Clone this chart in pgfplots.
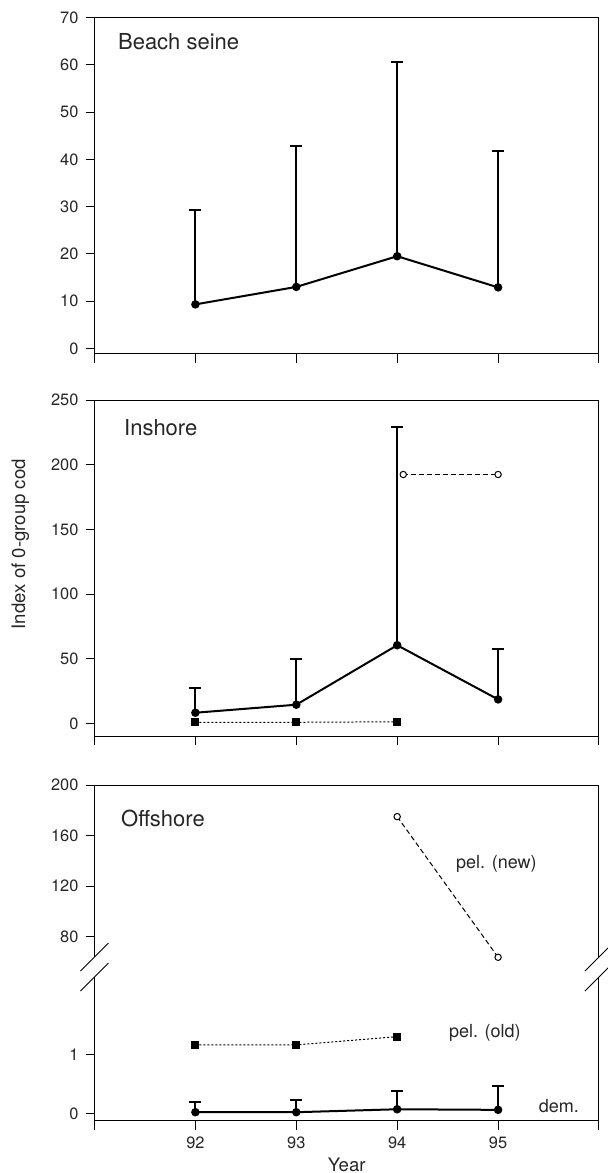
\documentclass[border=0pt]{standalone}
\usepackage{fontspec}
\setmainfont{TeX Gyre Heros}
\usepackage{pgfplots}
\pgfplotsset{compat=1.18}

\begin{document}
\begin{tikzpicture}
\useasboundingbox (0,0) rectangle (303.5pt,-586.5pt);
\tikzset{
  ttl/.style={font=\fontsize{11}{13}\selectfont, text=black!85, inner sep=0pt},
  lbl/.style={font=\fontsize{9}{11}\selectfont, text=black!85, inner sep=0pt},
  brk/.style={line width=0.5pt, black},
}
\pgfplotsset{
  panel/.style={
    scale only axis, anchor=south west, width=252.25pt,
    xmin=91, xmax=96, xtick={91,...,96}, xticklabels={},
    tick align=outside, xtick pos=left, ytick pos=left,
    major tick length=4.5pt,
    tick style={line width=0.5pt, black},
    axis line style={line width=0.5pt},
    tick label style={font=\fontsize{8.2}{9}\selectfont, text=black!85},
    label style={font=\fontsize{9.3}{11}\selectfont, text=black!85},
    /pgf/number format/assume math mode=true,
    clip=false,
  },
  mean/.style={
    black, line width=1pt, mark=*, mark size=1.6pt,
    error bars/.cd, y dir=plus, y explicit,
    error bar style={line width=1pt},
    error mark options={rotate=90, line width=1pt, mark size=3pt},
  },
  oldpel/.style={black, line width=0.5pt, dash pattern=on 1pt off 1pt,
    mark=square*, mark size=1.7pt, mark options={solid}},
  newpel/.style={black, line width=0.5pt, dash pattern=on 2.5pt off 1.5pt,
    mark=*, mark size=1.6pt, mark options={solid, fill=white, line width=0.5pt}},
}

% Beach seine
\begin{axis}[panel, at={(47.25pt,-176.75pt)}, height=167.9pt,
  ymin=-1.1, ymax=70, ytick={0,10,...,70}]
\addplot[mean] coordinates {(92,9.3) +- (0,20.0) (93,13.0) +- (0,29.8)
  (94,19.5) +- (0,41.1) (95,12.9) +- (0,28.9)};
\node[ttl, anchor=base west] at (axis cs:91.23,63.2) {Beach seine};
\end{axis}

% Inshore
\begin{axis}[panel, at={(47.25pt,-368pt)}, height=168pt,
  ymin=-9.8, ymax=250, ytick={0,50,...,250},
  ylabel={Index of 0-group cod},
  ylabel style={at={(axis description cs:-0.147,0.571)}, anchor=center}]
\addplot[oldpel] coordinates {(92,0.8) (93,0.8) (94,1.2)};
\addplot[newpel] coordinates {(94.06,192.4) (95,192.4)};
\addplot[mean] coordinates {(92,8.2) +- (0,18.8) (93,14.4) +- (0,35.2)
  (94,60.4) +- (0,169) (95,18.5) +- (0,38.6)};
\node[ttl, anchor=base west] at (axis cs:91.29,222.6) {Inshore};
\end{axis}

% Offshore, upper part
\begin{axis}[panel, at={(47.25pt,-478.5pt)}, height=86pt,
  ymin=64, ymax=200, ytick={80,120,160,200}, xtick=\empty,
  axis line style={draw=none}]
\draw[line width=0.5pt] (rel axis cs:0,0) -- (rel axis cs:0,1)
  -- (rel axis cs:1,1) -- (rel axis cs:1,0);
\draw[brk] (rel axis cs:0,0) ++(-7pt,-7pt) -- ++(14pt,14pt);
\draw[brk] (rel axis cs:1,0) ++(-7pt,-7pt) -- ++(14pt,14pt);
\addplot[newpel] coordinates {(94,175) (95,63.8)};
\node[ttl, anchor=base west] at (axis cs:91.26,166.8) {Offshore};
\node[lbl, anchor=west] at (axis cs:94.58,138) {pel. (new)};
\end{axis}

% Offshore, lower part
\begin{axis}[panel, at={(47.25pt,-560.35pt)}, height=71.85pt,
  ymin=-0.114, ymax=2.32, ytick={0,1},
  xticklabels={,92,93,94,95,},
  xlabel={Year},
  xlabel style={at={(axis description cs:0.5,-0.305)}, anchor=center},
  axis line style={draw=none}]
\draw[line width=0.5pt] (rel axis cs:0,1) -- (rel axis cs:0,0)
  -- (rel axis cs:1,0) -- (rel axis cs:1,1);
\draw[brk] (rel axis cs:0,1) ++(-7pt,-7pt) -- ++(14pt,14pt);
\draw[brk] (rel axis cs:1,1) ++(-7pt,-7pt) -- ++(14pt,14pt);
\addplot[oldpel] coordinates {(92,1.17) (93,1.17) (94,1.31)};
\addplot[mean] coordinates {(92,0.03) +- (0,0.18) (93,0.03) +- (0,0.20)
  (94,0.08) +- (0,0.305) (95,0.07) +- (0,0.40)};
\node[lbl, anchor=west] at (axis cs:94.51,1.38) {pel. (old)};
\node[lbl, anchor=west] at (axis cs:95.40,0.135) {dem.};
\end{axis}
\end{tikzpicture}
\end{document}
